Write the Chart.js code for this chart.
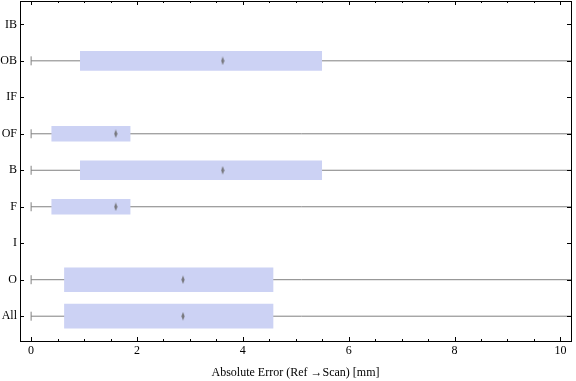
<!DOCTYPE html>
<html><head><meta charset="utf-8">
<script src="https://cdn.jsdelivr.net/npm/chart.js@4/dist/chart.umd.min.js"></script>
<style>html,body{margin:0;padding:0;background:#fff}#wrap{width:576px;height:381px}</style>
</head><body><div id="wrap"><canvas id="c" width="576" height="381"></canvas></div>
<script>
// ---- data (top to bottom) ----
const categories  = ['IB','OB','IF','OF','B','F','I','O','All'];
const whiskerLow  = [null, 0,    null, 0,    0,    0,    null, 0,    0   ];
const q1          = [null, 0.93, null, 0.39, 0.93, 0.39, null, 0.63, 0.63];
const median      = [null, 3.62, null, 1.60, 3.62, 1.60, null, 2.87, 2.87];
const q3          = [null, 5.49, null, 1.87, 5.49, 1.87, null, 4.57, 4.57];
const whiskerHigh = [null, 11,   null, 11,   11,   11,   null, 11,   11  ];
const xTickValues = [0,0.5,1,1.5,2,2.5,3,3.5,4,4.5,5,5.5,6,6.5,7,7.5,8,8.5,9,9.5,10];
const xTickLabels = ['0','','','','2','','','','4','','','','6','','','','8','','','','10'];
const xTitle = 'Absolute Error (Ref \u2192Scan) [mm]';

// ---- styles ----
const FONT = "'Liberation Serif', 'Times New Roman', serif";
const BOX_COLOR = 'rgb(204,210,244)';
const WHISKER_COLOR = '#808080';
const boxGroups = [
  {idx: [1, 4], thickness: 19},
  {idx: [3, 5], thickness: 15},
  {idx: [7, 8], thickness: 24}
];

const diamond = document.createElement('canvas');
diamond.width = 4; diamond.height = 9;
(function(){
  const g = diamond.getContext('2d');
  g.fillStyle = 'rgba(105,105,105,0.85)';
  g.beginPath();
  g.moveTo(2, 0.3); g.lineTo(3.6, 4.5); g.lineTo(2, 8.7); g.lineTo(0.4, 4.5);
  g.closePath(); g.fill();
})();

const datasets = [];
categories.forEach((c, i) => {
  if (whiskerLow[i] === null) return;
  datasets.push({
    type: 'line', order: 3,
    data: [{x: whiskerLow[i], y: i}, {x: whiskerHigh[i], y: i}],
    borderColor: WHISKER_COLOR, borderWidth: 1, pointRadius: 0, fill: false
  });
});
datasets.push({
  type: 'scatter', order: 2,
  data: categories.map((c, i) => whiskerLow[i] === null ? null : {x: whiskerLow[i], y: i}).filter(Boolean),
  pointStyle: 'line', rotation: 90, pointRadius: 4.5, borderColor: WHISKER_COLOR, borderWidth: 1
});
boxGroups.forEach(gr => {
  datasets.push({
    type: 'bar', order: 1, grouped: false,
    data: gr.idx.map(i => ({y: i, x: [q1[i], q3[i]]})),
    backgroundColor: BOX_COLOR, borderWidth: 0, barThickness: gr.thickness
  });
});
datasets.push({
  type: 'scatter', order: 0,
  data: categories.map((c, i) => median[i] === null ? null : {x: median[i], y: i}).filter(Boolean),
  pointStyle: diamond, pointRadius: 4
});

const inwardTicks = {
  id: 'inwardTicks',
  afterDraw(chart) {
    const ctx = chart.ctx, a = chart.chartArea;
    ctx.save();
    ctx.strokeStyle = '#000'; ctx.lineWidth = 1;
    ctx.beginPath();
    const xs = chart.scales.x;
    xTickValues.forEach((v, k) => {
      const px = Math.round(xs.getPixelForValue(v)) + 0.5;
      const len = xTickLabels[k] !== '' ? 4 : 2;
      ctx.moveTo(px, a.bottom); ctx.lineTo(px, a.bottom - len);
      ctx.moveTo(px, a.top); ctx.lineTo(px, a.top + len);
    });
    const ys = chart.scales.y;
    categories.forEach((c, i) => {
      const py = Math.round(ys.getPixelForValue(i)) + 0.5;
      ctx.moveTo(a.left, py); ctx.lineTo(a.left + 4, py);
      ctx.moveTo(a.right, py); ctx.lineTo(a.right - 4, py);
    });
    ctx.stroke();
    ctx.restore();
  }
};

const hiddenGrid = {display: true, drawOnChartArea: false, drawTicks: false, color: 'rgba(0,0,0,0)'};
const border = {display: true, color: '#000', width: 1};
const noPad = s => { s.paddingTop = 0; s.paddingBottom = 0; s.paddingLeft = 0; s.paddingRight = 0; };

new Chart(document.getElementById('c'), {
  type: 'bar',
  data: {datasets},
  options: {
    indexAxis: 'y',
    responsive: false, animation: false, devicePixelRatio: 1,
    layout: {autoPadding: false, padding: {top: 1, right: 5, left: 0, bottom: 0}},
    plugins: {legend: {display: false}, tooltip: {enabled: false}},
    scales: {
      x: {
        type: 'linear', position: 'bottom', min: -0.21, max: 10.2,
        afterBuildTicks: s => { s.ticks = xTickValues.map(v => ({value: v})); },
        afterFit: s => { s.height = 40; noPad(s); },
        ticks: {autoSkip: false, maxRotation: 0, padding: 3, color: '#000',
          font: {family: FONT, size: 12},
          callback: (v, k) => xTickLabels[k]},
        grid: hiddenGrid, border,
        title: {display: true, text: xTitle, color: '#000', font: {family: FONT, size: 12},
          padding: {top: 0, bottom: 1}}
      },
      x2: {
        type: 'linear', axis: 'x', position: 'top', min: -0.21, max: 10.2, display: true,
        afterFit: s => { s.height = 0; noPad(s); },
        ticks: {display: false}, grid: hiddenGrid, border
      },
      y: {
        type: 'linear', position: 'left', min: -0.64, max: 8.68, reverse: true, offset: false,
        afterBuildTicks: s => { s.ticks = categories.map((c, i) => ({value: i})); },
        afterFit: s => { s.width = 20; noPad(s); },
        ticks: {autoSkip: false, padding: 3, color: '#000', font: {family: FONT, size: 12},
          callback: v => categories[v]},
        grid: hiddenGrid, border
      },
      y2: {
        type: 'linear', axis: 'y', position: 'right', min: -0.64, max: 8.68, reverse: true, display: true,
        afterFit: s => { s.width = 0; noPad(s); },
        ticks: {display: false}, grid: hiddenGrid, border
      }
    }
  },
  plugins: [inwardTicks]
});
</script></body></html>
